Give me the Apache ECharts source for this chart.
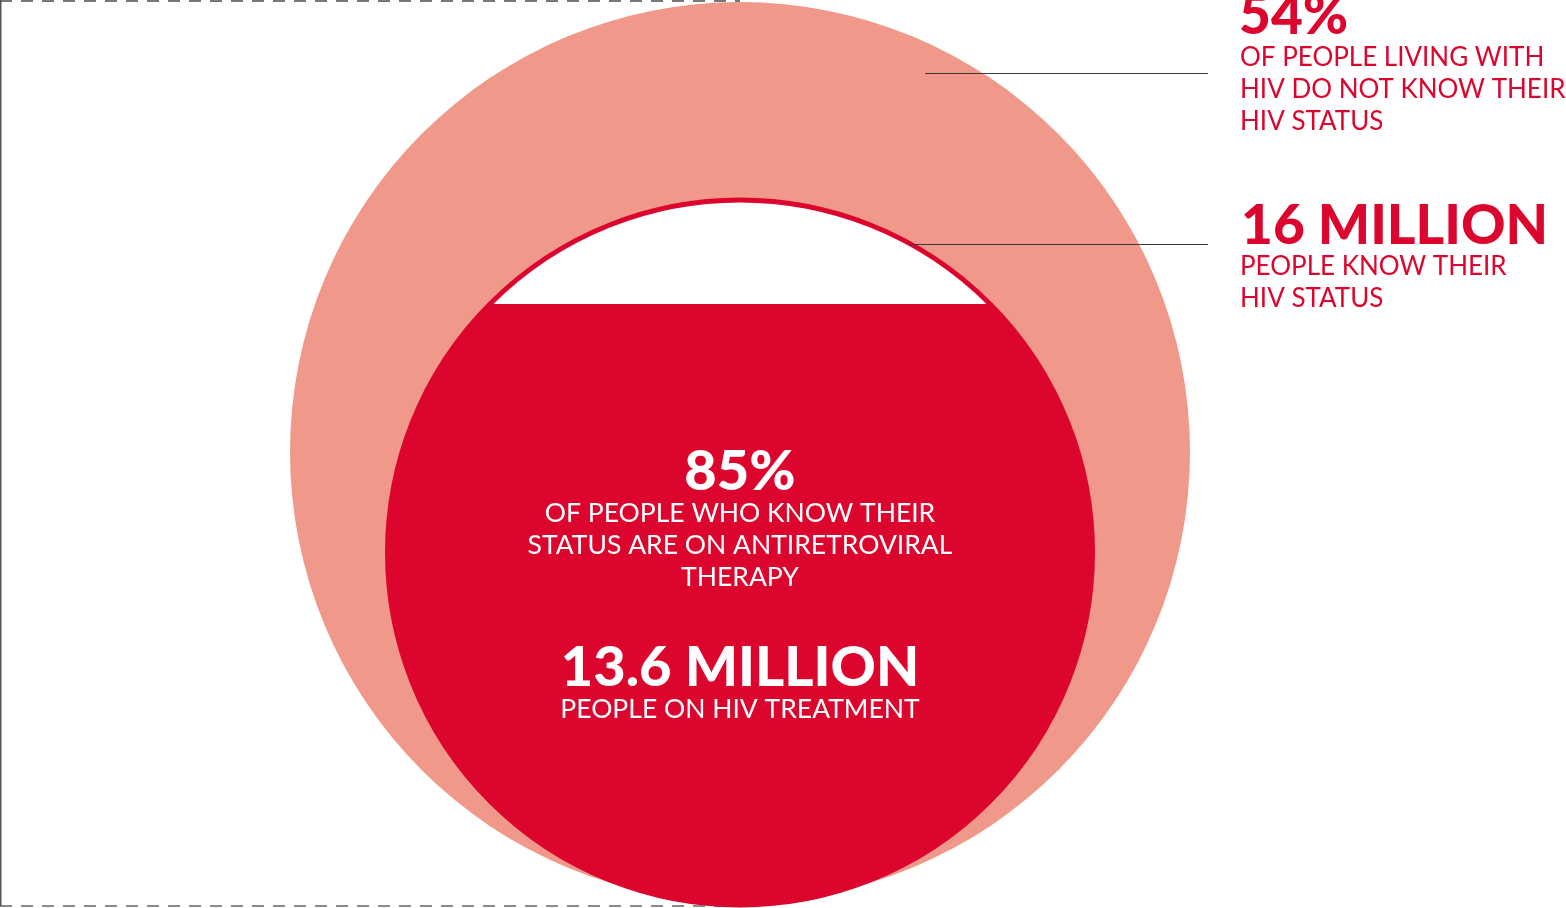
<!DOCTYPE html>
<html>
<head>
<meta charset="utf-8">
<script src="https://cdn.jsdelivr.net/npm/echarts@6/dist/echarts.min.js"></script>
<style>
html,body{margin:0;padding:0;background:#fff;}
#chart{width:1566px;height:908px;}
</style>
</head>
<body>
<div id="chart"></div>
<script>
// ---- data ----
const headlines = ['54%', '16 MILLION', '85%', '13.6 MILLION'];
const headlineNotes = [
  'OF PEOPLE LIVING WITH\nHIV DO NOT KNOW THEIR\nHIV STATUS',
  'PEOPLE KNOW THEIR\nHIV STATUS',
  'OF PEOPLE WHO KNOW THEIR\nSTATUS ARE ON ANTIRETROVIRAL\nTHERAPY',
  'PEOPLE ON HIV TREATMENT'
];
const onTreatmentPct = [85];   // share of people who know their status on ART (fill level)

// ---- style ----
const SALMON = '#F0998A';
const RED = '#DC052D';
const FONT = 'Lato';

const chart = echarts.init(document.getElementById('chart'));

function renderItem(params, api) {
  const pct = api.value(0);
  const ocx = 740, ocy = 452, orr = 450;
  const icx = 740, icy = 552.5, ir = 352.5;
  const outerEdge = ir + 2.5;
  const level = icy + outerEdge - 2 * outerEdge * pct / 100;
  const d = level - icy;
  const t0 = Math.asin(Math.max(-1, Math.min(1, d / ir)));
  const t1 = Math.PI - t0;
  const pts = [];
  const n = 240;
  for (let i = 0; i <= n; i++) {
    const t = t0 + (t1 - t0) * i / n;
    pts.push([icx + ir * Math.cos(t), icy + ir * Math.sin(t)]);
  }
  return {
    type: 'group',
    children: [
      { type: 'circle', shape: { cx: ocx, cy: ocy, r: orr }, style: { fill: SALMON } },
      { type: 'circle', shape: { cx: icx, cy: icy, r: ir }, style: { fill: '#fff' } },
      { type: 'polygon', shape: { points: pts }, style: { fill: RED } },
      { type: 'circle', shape: { cx: icx, cy: icy, r: ir }, style: { fill: 'none', stroke: RED, lineWidth: 5 } }
    ]
  };
}

chart.setOption({
  animation: false,
  graphic: [
    // frame (behind)
    { type: 'line', z: -10, shape: { x1: 0, y1: 1, x2: 740, y2: 1 }, style: { stroke: '#777', lineWidth: 2, lineDash: [12, 9] } },
    { type: 'line', z: -10, shape: { x1: 0, y1: 906, x2: 740, y2: 906 }, style: { stroke: '#666', lineWidth: 1.5, lineDash: [12, 9] } },
    { type: 'line', z: -10, shape: { x1: 0.75, y1: 0, x2: 0.75, y2: 906 }, style: { stroke: '#555', lineWidth: 1.5 } },
    // leader lines
    { type: 'line', z: 50, shape: { x1: 925, y1: 73.5, x2: 1208, y2: 73.5 }, style: { stroke: '#3a3a3a', lineWidth: 1.2 } },
    { type: 'line', z: 50, shape: { x1: 910, y1: 244.5, x2: 1208, y2: 244.5 }, style: { stroke: '#3a3a3a', lineWidth: 1.2 } },
    // right labels
    { type: 'text', z: 50, x: 1239, y: 16, style: { text: headlines[0], fill: RED, font: '900 55px ' + FONT, textAlign: 'left', textVerticalAlign: 'middle' } },
    { type: 'text', z: 50, x: 1240, y: 42, style: { text: headlineNotes[0], fill: RED, font: '26px ' + FONT, lineHeight: 32, textAlign: 'left', textVerticalAlign: 'top' } },
    { type: 'text', z: 50, x: 1241, y: 226, style: { text: headlines[1], fill: RED, font: '900 55px ' + FONT, textAlign: 'left', textVerticalAlign: 'middle' } },
    { type: 'text', z: 50, x: 1240, y: 251, style: { text: headlineNotes[1], fill: RED, font: '26px ' + FONT, lineHeight: 32, textAlign: 'left', textVerticalAlign: 'top' } },
    // inner labels
    { type: 'text', z: 50, x: 740, y: 472, style: { text: headlines[2], fill: '#fff', font: '900 56px ' + FONT, textAlign: 'center', textVerticalAlign: 'middle' } },
    { type: 'text', z: 50, x: 740, y: 497, style: { text: headlineNotes[2], fill: '#fff', font: '26.5px ' + FONT, lineHeight: 32, textAlign: 'center', textVerticalAlign: 'top' } },
    { type: 'text', z: 50, x: 740, y: 668, style: { text: headlines[3], fill: '#fff', font: '900 56px ' + FONT, textAlign: 'center', textVerticalAlign: 'middle' } },
    { type: 'text', z: 50, x: 740, y: 693, style: { text: headlineNotes[3], fill: '#fff', font: '26.5px ' + FONT, lineHeight: 32, textAlign: 'center', textVerticalAlign: 'top' } }
  ],
  series: [{
    type: 'custom',
    coordinateSystem: 'none',
    renderItem: renderItem,
    data: [onTreatmentPct],
    silent: true
  }]
});
</script>
</body>
</html>
